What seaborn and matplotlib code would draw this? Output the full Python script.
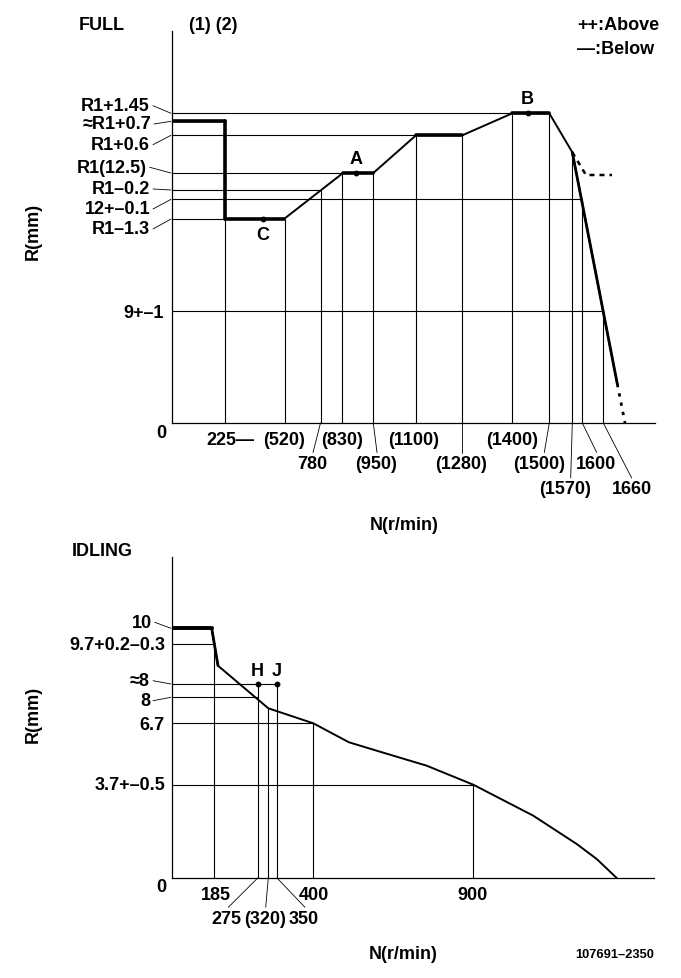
import matplotlib.pyplot as plt
import numpy as np
import pandas as pd
import seaborn as sns

# schematic chart, values are drawing units measured from the axis origin
# ---- FULL ----
full_level_text = ['R1+1.45', '≈R1+0.7', 'R1+0.6', 'R1(12.5)', 'R1–0.2', '12+–0.1', 'R1–1.3', '9+–1']
full_level_y = [309.7, 301.7, 287.7, 250.0, 233.0, 223.7, 204.0, 112.0]
full_level_end = [340.3, 53.0, 244.0, 171.0, 148.5, 410.3, 53.0, 431.3]
full_label_y = [317.3, 299.0, 278.3, 255.7, 234.0, 214.0, 194.0, 110.7]
full_leader = [True, True, True, True, True, True, True, False]

full_n_text = ['225—', '(520)', '780', '(830)', '(950)', '(1100)', '(1280)', '(1400)',
               '(1500)', '(1570)', '1600', '1660']
full_n_x = [53.0, 112.6, 148.5, 170.1, 201.3, 244.2, 290.0, 339.8, 377.3, 400.3, 410.3, 431.3]
full_n_top = [204.0, 204.0, 233.0, 250.0, 250.0, 287.7, 287.7, 309.7, 309.7, 270.7, 223.7, 112.0]
full_n_row = [1, 1, 2, 1, 2, 1, 2, 1, 2, 3, 2, 3]
full_n_label_x = [58.5, 112.5, 140.7, 169.9, 204.5, 242.0, 289.0, 340.3, 367.5, 393.5, 424.0, 459.7]
full_n_lead_x = [None, None, 141.0, None, 205.0, None, 290.0, None, 372.3, 398.7, 424.7, 459.7]

full_curve_x = [0, 53, 53, 112, 171, 201.3, 244, 290.3, 340.3, 377.3, 400.3, 445.3]
full_curve_y = [301.7, 301.7, 204, 204, 250, 250, 287.7, 287.7, 309.7, 309.7, 270.7, 39]
full_tail_x = [445.3, 453]
full_tail_y = [39, 0]
full_above_x = [400.3, 414, 440]
full_above_y = [270.7, 248, 248]
full_points = {'C': (91, 204), 'A': (183.7, 250), 'B': (355.7, 309.7)}

# ---- IDLING ----
idle_level_text = ['10', '9.7+0.2–0.3', '≈8', '8', '6.7', '3.7+–0.5']
idle_level_y = [249.7, 233.7, 194.0, 180.7, 154.7, 93.3]
idle_level_end = [39.7, 42.3, 105.0, 85.7, 141.3, 301.3]
idle_label_y = [255.7, 233.5, 197.3, 177.3, 154.0, 94.0]
idle_label_x = [-20.3, -7, -22, -22, -7, -7]
idle_leader = [True, False, True, True, False, False]

idle_n_text = ['185', '275', '(320)', '350', '400', '900']
idle_n_x = [42.3, 85.7, 96.3, 105.0, 141.3, 301.3]
idle_n_top = [233.7, 194.0, 169.7, 194.0, 154.7, 93.3]
idle_n_row = [1, 2, 2, 2, 1, 1]
idle_n_label_x = [43.7, 54.7, 93.0, 131.3, 142.0, 300.3]
idle_n_lead_x = [None, 56.3, 93.7, 133.0, None, None]

idle_curve_x = [0, 39.7, 46, 96.3, 141.3, 177, 208, 254.7, 301.3, 361.3, 404.7, 424.7, 444.7]
idle_curve_y = [249.7, 249.7, 212.3, 169.7, 154.7, 135.7, 126.3, 112.3, 93.3, 62.3, 34, 19, 0]
idle_points = {'H': (85.7, 194), 'J': (105, 194)}

W, H = 681, 979
sns.set_style('white')
plt.rcParams['font.family'] = ['Liberation Sans', 'DejaVu Sans']
plt.rcParams['font.weight'] = 'bold'
plt.rcParams['text.color'] = 'black'
FS = 13
K = 'black'

fig = plt.figure(figsize=(W / 100, H / 100), dpi=100)


def make_axes(x0, y_top, x1, y_bot):
    ax = fig.add_axes([x0 / W, 1 - y_bot / H, (x1 - x0) / W, (y_bot - y_top) / H])
    ax.set_xlim(0, x1 - x0)
    ax.set_ylim(0, y_bot - y_top)
    ax.set_xticks([])
    ax.set_yticks([])
    sns.despine(ax=ax)
    for s in ['left', 'bottom']:
        ax.spines[s].set_color(K)
        ax.spines[s].set_linewidth(0.9)
    ax.patch.set_alpha(0)
    return ax


def draw_levels(ax, text, ly, lend, labx, laby, lead):
    ax.hlines(ly, 0, lend, color=K, lw=0.8)
    for t, y, lx, lyy, ld in zip(text, ly, labx, laby, lead):
        ax.text(lx, lyy, t, ha='right', va='center', fontsize=FS, clip_on=False)
        if ld:
            ax.plot([lx + 3, -1], [lyy, y], color=K, lw=0.6, clip_on=False)


def draw_speeds(ax, text, nx, ntop, rows, labx, leadx, row_y):
    ax.vlines(nx, 0, ntop, color=K, lw=0.8)
    for t, x, r, lx, ldx in zip(text, nx, rows, labx, leadx):
        y = row_y[r]
        ax.text(lx, y, t, ha='center', va='center', fontsize=FS, clip_on=False)
        if ldx is not None:
            ax.plot([x, ldx], [0, y + 11], color=K, lw=0.6, clip_on=False)


# ---------- FULL panel ----------
ax1 = make_axes(172, 32, 655, 424)
draw_levels(ax1, full_level_text, full_level_y, full_level_end,
            [-22, -21, -22, -25.3, -22, -22, -22, -8.7], full_label_y, full_leader)
draw_speeds(ax1, full_n_text, full_n_x, full_n_top, full_n_row, full_n_label_x,
            full_n_lead_x, {1: -16.5, 2: -40.5, 3: -66})

full_df = pd.DataFrame({'n': full_curve_x, 'r': full_curve_y})
sns.lineplot(data=full_df, x='n', y='r', sort=False, estimator=None, color=K, lw=1.4, ax=ax1)
# thick plateaus (and the first drop)
for i in [0, 1, 2, 4, 6, 8]:
    sns.lineplot(x=full_curve_x[i:i + 2], y=full_curve_y[i:i + 2], sort=False,
                 estimator=None, color=K, lw=2.6, ax=ax1)
sns.lineplot(x=full_curve_x[-2:], y=full_curve_y[-2:], sort=False, estimator=None, color=K, lw=2.0, ax=ax1)
ax1.plot(full_tail_x, full_tail_y, color=K, lw=2.0, ls=(0, (1.2, 2.2)), clip_on=False)
ax1.plot(full_above_x, full_above_y, color=K, lw=1.8, ls=(0, (2.0, 2.0)))
for name, (px, py) in full_points.items():
    ax1.plot(px, py, 'o', color=K, ms=3.2)
ax1.text(91, 188, 'C', ha='center', va='center', fontsize=FS)
ax1.text(183.7, 264, 'A', ha='center', va='center', fontsize=FS)
ax1.text(355.7, 324, 'B', ha='center', va='center', fontsize=FS)
ax1.text(-10.3, -10, '0', ha='center', va='center', fontsize=FS, clip_on=False)
ax1.set_xlabel('')
ax1.set_ylabel('')

# ---------- IDLING panel ----------
ax2 = make_axes(172, 558, 654, 879)
draw_levels(ax2, idle_level_text, idle_level_y, idle_level_end,
            idle_label_x, idle_label_y, idle_leader)
draw_speeds(ax2, idle_n_text, idle_n_x, idle_n_top, idle_n_row, idle_n_label_x,
            idle_n_lead_x, {1: -16, 2: -40.3})
sns.lineplot(x=idle_curve_x, y=idle_curve_y, sort=False, estimator=None, color=K, lw=1.4, ax=ax2)
sns.lineplot(x=idle_curve_x[:2], y=idle_curve_y[:2], sort=False, estimator=None, color=K, lw=2.8, ax=ax2)
sns.lineplot(x=idle_curve_x[1:3], y=idle_curve_y[1:3], sort=False, estimator=None, color=K, lw=2.0, ax=ax2)
for name, (px, py) in idle_points.items():
    ax2.plot(px, py, 'o', color=K, ms=3.2)
    ax2.text(px, py + 13, name, ha='center', va='center', fontsize=FS)
ax2.text(-10.3, -9, '0', ha='center', va='center', fontsize=FS, clip_on=False)
ax2.set_xlabel('')
ax2.set_ylabel('')


def ftext(x, y, s, **kw):
    kw.setdefault('fontsize', FS)
    fig.text(x / W, 1 - y / H, s, **kw)


ftext(79, 26, 'FULL', ha='left', va='center')
ftext(189, 26, '(1) (2)', ha='left', va='center')
ftext(577, 26, '++:Above', ha='left', va='center')
ftext(577, 49, '—:Below', ha='left', va='center')
ftext(404, 525, 'N(r/min)', ha='center', va='center')
ftext(33, 231, 'R(mm)', ha='center', va='center', rotation=90)
ftext(72, 552, 'IDLING', ha='left', va='center')
ftext(33, 714, 'R(mm)', ha='center', va='center', rotation=90)
ftext(403, 955, 'N(r/min)', ha='center', va='center')
ftext(615, 955, '107691–2350', ha='center', va='center', fontsize=9.3)

fig.savefig('out.png', dpi=100)
